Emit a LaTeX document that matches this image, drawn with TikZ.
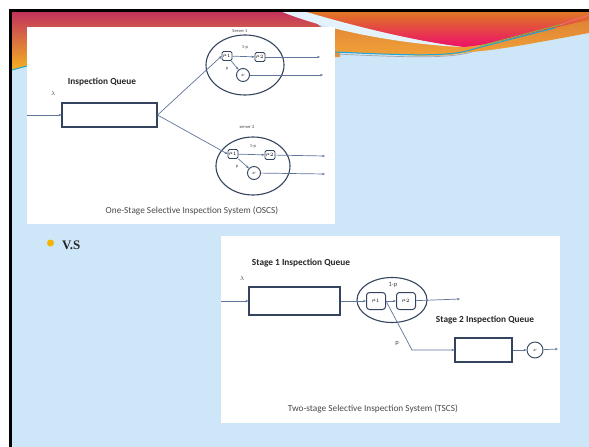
\documentclass[tikz,border=0pt]{standalone}
\usepackage{fontspec}
\setmainfont{Carlito}
\newfontfamily\vsfont{Liberation Serif}
\usetikzlibrary{arrows.meta,shapes.geometric}
\definecolor{bgblue}{HTML}{CDE7F9}
\definecolor{crim}{HTML}{C2335C}
\definecolor{gold}{HTML}{F4B122}
\definecolor{orng}{HTML}{E07A22}
\definecolor{magn}{HTML}{EC0F6A}
\definecolor{bandtop}{HTML}{DA7C34}
\definecolor{bandbot}{HTML}{F2A338}
\definecolor{lnk}{HTML}{60759A}
\definecolor{boxc}{HTML}{34445E}
\definecolor{capc}{HTML}{4A4A4A}
\definecolor{bulc}{HTML}{F6B400}
\definecolor{cyanl}{HTML}{1BA8D8}
\definecolor{greenl}{HTML}{7CC242}
\begin{document}
\begin{tikzpicture}[x=1pt,y=-1pt,
  conn/.style={draw=lnk, line width=0.7pt},
  arr/.style={conn,-{Stealth[length=3pt,width=2.4pt]}},
  qbox/.style={draw=boxc, line width=1.1pt, fill=white, inner sep=0pt},
  mbox/.style={draw=boxc, line width=0.8pt, rounded corners=1.5pt, inner sep=0pt, minimum width=10pt, minimum height=9pt, font=\fontsize{3.5}{4}\selectfont},
  mbig/.style={draw=boxc, line width=1pt, rounded corners=3pt, inner sep=0pt, minimum width=19pt, minimum height=17pt, font=\fontsize{5}{6}\selectfont},
  srv/.style={draw=boxc, line width=1.1pt, ellipse, inner sep=0pt},
  nu/.style={draw=boxc, line width=0.9pt, circle, inner sep=0pt, font=\fontsize{4}{5}\selectfont},
  lab/.style={font=\fontsize{4.5}{5}\selectfont, text=black!75, inner sep=0pt},
  ttl/.style={font=\bfseries\fontsize{9.3}{11}\selectfont, text=black!85, inner sep=0pt},
  capt/.style={font=\fontsize{9.3}{11}\selectfont, text=capc, inner sep=0pt}]
\useasboundingbox (0,0) rectangle (589,447);
\fill[white] (0,0) rectangle (589,447);
\fill[bgblue] (9,9) rectangle (589,447);
% top decorative band
\shade[top color=crim, bottom color=gold] (12,12) -- (300,12) -- (340,40) -- (340,57) -- (27,66) -- (12,70) -- cycle;
\shade[top color=bandtop, bottom color=bandbot] (300,11) -- (589,11) -- (589,33) .. controls (540,42) and (500,50) .. (470,52) .. controls (440,57) .. (335,52) -- (335,25) -- cycle;
\shade[top color=orng, bottom color=magn] (303,11) -- (589,11) -- (589,20) .. controls (540,30) and (500,44) .. (463,47) .. controls (420,42) and (360,28) .. (303,11) -- cycle;
\fill[bgblue!55!white] (280,11) -- (303,11) .. controls (360,28) and (420,42) .. (463,47) .. controls (410,45) and (330,32) .. (280,11) -- cycle;
\draw[gray!70, line width=0.7pt] (335,54) .. controls (420,58) and (450,58) .. (472,52);
\draw[cyanl, line width=1pt] (335,52) .. controls (420,56) and (450,56) .. (470,50) .. controls (500,42) and (535,33) .. (555,28);
\draw[greenl, line width=0.8pt] (480,46) .. controls (510,38) and (540,30) .. (563,24);
\draw[magn!60!white, line width=0.5pt] (560,25) .. controls (570,21) and (580,18) .. (589,15);
\draw[cyanl, line width=1pt] (12,70) -- (27,66);
\fill[black] (9,9) rectangle (589,12);
\fill[black] (9,9) rectangle (12,447);
% panel 1
\node[fill=white, inner sep=0pt, minimum width=308pt, minimum height=197pt, anchor=north west] (panelA) at (27,27) {};
\node[ttl] (iq) at (102,82) {Inspection Queue};
\node[lab, font=\fontsize{6}{7}\selectfont] (lam1) at (53,93) {$\lambda$};
\coordinate (in1) at (27,115);
\node[qbox, minimum width=95pt, minimum height=24pt] (q1) at (109.5,115) {};
\draw[arr] (in1) -- (q1.west);
\node[srv, minimum width=78pt, minimum height=60pt] (s1) at (245,65) {};
\node[lab] (s1l) at (240,31) {Server 1};
\node[mbox] (a1) at (227,56) {$\mu_1$};
\node[mbox] (a2) at (260,57) {$\mu_2$};
\node[nu, minimum size=13pt] (v1) at (243,75) {$\nu$};
\node[lab] (a1p) at (245,47) {1-p};
\node[lab] (a1q) at (227,69) {p};
\coordinate (o1a) at (320,57);
\coordinate (o1b) at (323,75);
\draw[arr] (q1.east) -- (a1.west);
\draw[arr] (a1) -- (a2);
\draw[arr] (a1) -- (v1);
\draw[arr] (a2) -- (o1a);
\draw[arr] (v1) -- (o1b);
\node[srv, minimum width=74pt, minimum height=58pt] (s2) at (253,166) {};
\node[lab] (s2l) at (247,127) {server 2};
\node[mbox] (b1) at (233,154) {$\mu_1$};
\node[mbox] (b2) at (270,155) {$\mu_2$};
\node[nu, minimum size=13pt] (v2) at (254,173) {$\nu$};
\node[lab] (b1p) at (253,146) {1-p};
\node[lab] (b1q) at (237,167) {p};
\coordinate (o2a) at (325,156);
\coordinate (o2b) at (325,174);
\draw[arr] (q1.east) -- (b1.west);
\draw[arr] (b1) -- (b2);
\draw[arr] (b1) -- (v2);
\draw[arr] (b2) -- (o2a);
\draw[arr] (v2) -- (o2b);
\node[capt] (capA) at (192,211) {One-Stage Selective Inspection System (OSCS)};
% bullet
\node[circle, fill=bulc, minimum size=7pt, inner sep=0pt] (bul) at (50.5,243) {};
\node[anchor=west, inner sep=0pt, font=\vsfont\bfseries\fontsize{13}{15}\selectfont, text=black!85] (vs) at (62,245) {V.S};
% panel 2
\node[fill=white, inner sep=0pt, minimum width=339pt, minimum height=187pt, anchor=north west] (panelB) at (221,236) {};
\node[ttl] (t1) at (301,263) {Stage 1 Inspection Queue};
\node[lab, font=\fontsize{6}{7}\selectfont] (lam2) at (242,278) {$\lambda$};
\coordinate (in2) at (221,301);
\node[qbox, minimum width=91pt, minimum height=28pt] (q2) at (294.5,301) {};
\draw[arr] (in2) -- (q2.west);
\node[srv, minimum width=70pt, minimum height=45pt] (e2) at (392,300) {};
\node[mbig] (c1) at (376,301) {$\mu_1$};
\node[mbig] (c2) at (406,301) {$\mu_2$};
\node[lab, font=\fontsize{6.5}{7}\selectfont] (c1p) at (393,285) {1-p};
\coordinate (o3) at (460,299);
\draw[arr] (q2.east) -- (c1.west);
\draw[arr] (c1) -- (c2);
\draw[arr] (c2) -- (o3);
\coordinate (k) at (412,350);
\node[lab, font=\fontsize{6.5}{7}\selectfont] (pl) at (397,343) {p};
\node[ttl] (t2) at (485,320) {Stage 2 Inspection Queue};
\node[qbox, minimum width=57pt, minimum height=24pt] (q3) at (483.5,350) {};
\node[nu, minimum size=16pt] (v3) at (535,350) {$\nu$};
\coordinate (o4) at (558,349);
\draw[arr] (c1.east) -- (k) -- (q3.west);
\draw[arr] (q3) -- (v3);
\draw[arr] (v3) -- (o4);
\node[capt] (capB) at (373,409) {Two-stage Selective Inspection System (TSCS)};
\end{tikzpicture}
\end{document}
